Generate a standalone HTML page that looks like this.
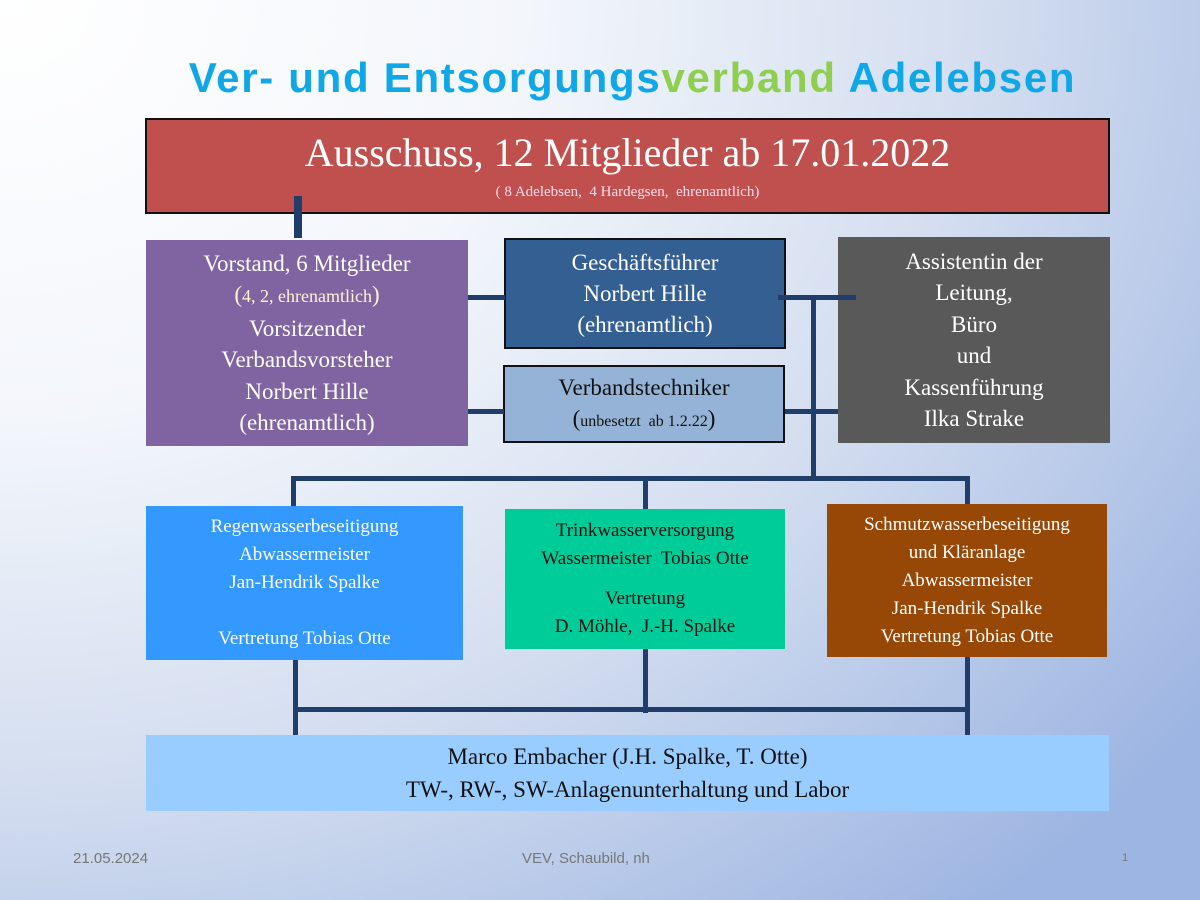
<!DOCTYPE html>
<html><head><meta charset="utf-8"><style>
body{margin:0;width:1200px;height:900px;overflow:hidden;position:relative;font-family:"Liberation Serif",serif;
background:radial-gradient(ellipse 1500px 1200px at 0px 0px,#ffffff 0%,#f3f6fb 35%,#d4def0 65%,#9db5e2 100%);}
.b{position:absolute;box-sizing:border-box;color:#fff;text-align:center;display:flex;flex-direction:column;justify-content:center;}
.l{position:absolute;background:#1f3f6a;}
</style></head><body>
<div style="position:absolute;left:0;width:1265px;top:54px;text-align:center;font-family:'Liberation Sans',sans-serif;font-weight:bold;font-size:42px;letter-spacing:1.7px;color:#10a7e6">Ver- und Entsorgungs<span style="color:#8ecf4f">verband</span> Adelebsen</div>

<div class="b" style="left:145px;top:118px;width:965px;height:96px;background:#c0504d;border:2px solid #111;justify-content:flex-start">
<div style="font-size:40px;line-height:46px;margin-top:10px">Ausschuss, 12 Mitglieder ab 17.01.2022</div>
<div style="font-size:15px;line-height:20px;margin-top:6px;color:#fde">( 8 Adelebsen,&nbsp; 4 Hardegsen,&nbsp; ehrenamtlich)</div></div>

<div class="l" style="left:294px;top:196px;width:8px;height:42px"></div>
<div class="b" style="left:146px;top:240px;width:322px;height:206px;background:#8064a2;font-size:23px;line-height:31.5px">
<div>Vorstand, 6 Mitglieder<br><span style="color:#fff3d0">(<span style="font-size:18px">4, 2, ehrenamtlich</span>)</span><br>Vorsitzender<br>Verbandsvorsteher<br>Norbert Hille<br>(ehrenamtlich)</div></div>

<div class="b" style="left:504px;top:238px;width:282px;height:111px;background:#345f93;border:2px solid #111;font-size:23px;line-height:31px">Geschäftsführer<br>Norbert Hille<br>(ehrenamtlich)</div>
<div class="b" style="left:503px;top:365px;width:282px;height:78px;background:#95b3d7;border:2px solid #111;color:#111;font-size:23px;line-height:31px">Verbandstechniker<br><span>(<span style="font-size:16px">unbesetzt&nbsp; ab 1.2.22</span>)</span></div>
<div class="b" style="left:838px;top:237px;width:272px;height:206px;background:#595959;font-size:23px;line-height:31.5px">Assistentin der<br>Leitung,<br>Büro<br>und<br>Kassenführung<br>Ilka Strake</div>

<div class="l" style="left:468px;top:295px;width:37px;height:5px"></div>
<div class="l" style="left:468px;top:409px;width:36px;height:5px"></div>
<div class="l" style="left:778px;top:295px;width:78px;height:5px"></div>
<div class="l" style="left:785px;top:409px;width:53px;height:5px"></div>
<div class="l" style="left:811px;top:295px;width:5px;height:185px"></div>
<div class="l" style="left:291px;top:476px;width:679px;height:5px"></div>
<div class="l" style="left:291px;top:476px;width:5px;height:30px"></div>
<div class="l" style="left:643px;top:476px;width:5px;height:33px"></div>
<div class="l" style="left:965px;top:476px;width:5px;height:28px"></div>

<div class="b" style="left:146px;top:506px;width:317px;height:154px;background:#3399ff;font-size:19px;line-height:28px">Regenwasserbeseitigung<br>Abwassermeister<br>Jan-Hendrik Spalke<br><br>Vertretung Tobias Otte</div>
<div class="b" style="left:505px;top:509px;width:280px;height:140px;background:#00cc99;color:#111;font-size:19px;line-height:28px"><div>Trinkwasserversorgung<br>Wassermeister&nbsp; Tobias Otte</div><div style="margin-top:12px">Vertretung<br>D. Möhle,&nbsp; J.-H. Spalke</div></div>
<div class="b" style="left:827px;top:504px;width:280px;height:153px;background:#974706;font-size:19px;line-height:28px">Schmutzwasserbeseitigung<br>und Kläranlage<br>Abwassermeister<br>Jan-Hendrik Spalke<br>Vertretung Tobias Otte</div>

<div class="l" style="left:293px;top:660px;width:5px;height:76px"></div>
<div class="l" style="left:643px;top:649px;width:5px;height:64px"></div>
<div class="l" style="left:965px;top:657px;width:5px;height:79px"></div>
<div class="l" style="left:293px;top:707px;width:677px;height:5px"></div>

<div class="b" style="left:146px;top:735px;width:963px;height:76px;background:#99ccff;color:#111;font-size:23px;line-height:33px">Marco Embacher (J.H. Spalke, T. Otte)<br>TW-, RW-, SW-Anlagenunterhaltung und Labor</div>

<div style="position:absolute;left:73px;top:850px;font-family:'Liberation Sans',sans-serif;font-size:15px;color:#777">21.05.2024</div>
<div style="position:absolute;left:522px;top:850px;font-family:'Liberation Sans',sans-serif;font-size:15px;color:#777">VEV, Schaubild, nh</div>
<div style="position:absolute;left:1122px;top:852px;font-family:'Liberation Sans',sans-serif;font-size:11px;color:#777">1</div>
</body></html>
